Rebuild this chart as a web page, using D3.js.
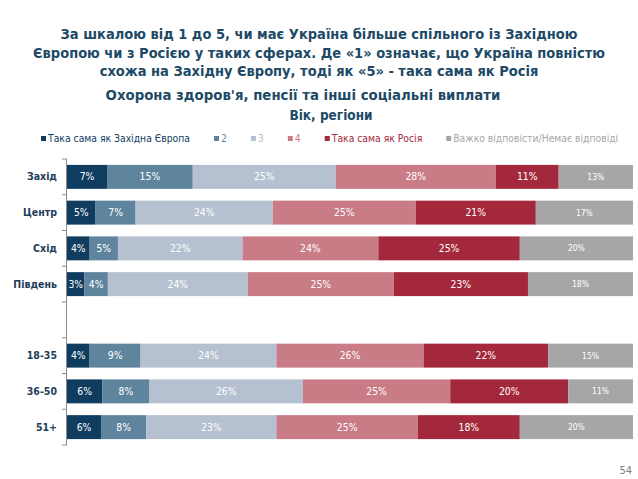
<!DOCTYPE html>
<html>
<head>
<meta charset="utf-8">
<script src="https://cdn.jsdelivr.net/npm/d3@7"></script>
<style>
  body { margin: 0; background: #fff; }
  svg { display: block; font-family: "DejaVu Sans Condensed", "DejaVu Sans", sans-serif; }
</style>
</head>
<body>
<div id="chart"></div>
<script>
const titleLines = [
  'За шкалою від 1 до 5, чи має Україна більше спільного із Західною',
  'Європою чи з Росією у таких сферах. Де «1» означає, що Україна повністю',
  'схожа на Західну Європу, тоді як «5» - така сама як Росія'
];
const subtitle = 'Охорона здоров\'я, пенсії та інші соціальні виплати';
const groupLabel = 'Вік, регіони';

const categories = ['Захід', 'Центр', 'Схід', 'Південь', ' ', '18-35', '36-50', '51+'];
const seriesNames = ['Така сама як Західна Європа', '2', '3', '4', 'Така сама як Росія', 'Важко відповісти/Немає відповіді'];
const colors = ['#0f3c5f', '#5f849e', '#b5c0d0', '#c97c86', '#a4283b', '#a6a6a6'];

const s1 = [7, 5, 4, 3, null, 4, 6, 6];
const s2 = [15, 7, 5, 4, null, 9, 8, 8];
const s3 = [25, 24, 22, 24, null, 24, 26, 23];
const s4 = [28, 25, 24, 25, null, 26, 25, 25];
const s5 = [11, 21, 25, 23, null, 22, 20, 18];
const s6 = [13, 17, 20, 18, null, 15, 11, 20];
const seriesValues = [s1, s2, s3, s4, s5, s6];

const width = 638, height = 479;
const svg = d3.select('#chart').append('svg')
  .attr('width', width)
  .attr('height', height);

// titles
const titleColor = '#1d4a66';
svg.append('g')
  .selectAll('text')
  .data(titleLines)
  .enter().append('text')
  .attr('x', 319)
  .attr('y', (d, i) => 39 + i * 18.5)
  .attr('text-anchor', 'middle')
  .attr('font-size', 14.5)
  .attr('font-weight', 'bold')
  .attr('fill', titleColor)
  .text(d => d);

svg.append('text')
  .attr('x', 303).attr('y', 100)
  .attr('text-anchor', 'middle')
  .attr('font-size', 14.8)
  .attr('font-weight', 'bold')
  .attr('fill', titleColor)
  .text(subtitle);

svg.append('text')
  .attr('x', 331).attr('y', 120)
  .attr('text-anchor', 'middle')
  .attr('font-size', 13.5)
  .attr('font-weight', 'bold')
  .attr('fill', titleColor)
  .text(groupLabel);

// legend
const legend = svg.append('g').attr('transform', 'translate(41,142)');
let lx = 0;
seriesNames.forEach((name, i) => {
  const item = legend.append('g').attr('transform', `translate(${lx},0)`);
  item.append('rect')
    .attr('x', 0).attr('y', -6)
    .attr('width', 5).attr('height', 5)
    .attr('fill', colors[i]);
  const t = item.append('text')
    .attr('x', 7).attr('y', 0)
    .attr('font-size', 10.3)
    .attr('fill', colors[i])
    .text(name);
  lx += 7 + t.node().getComputedTextLength() + 24;
});

// data
const rows = categories.map((c, j) => {
  const row = {cat: c};
  seriesNames.forEach((n, i) => { row[n] = seriesValues[i][j] || 0; });
  row.empty = seriesValues[0][j] == null;
  return row;
});

const stack = d3.stack().keys(seriesNames).offset(d3.stackOffsetExpand);
const stacked = stack(rows);

const x = d3.scaleLinear().domain([0, 1]).range([67, 633]);
const y = d3.scaleBand().domain(categories).range([159, 445])
  .paddingInner(0.33).paddingOuter(0.165);

const layers = svg.append('g')
  .selectAll('g')
  .data(stacked)
  .enter().append('g')
  .attr('fill', (d, i) => colors[i]);

layers.selectAll('rect')
  .data(d => d.filter(p => !p.data.empty))
  .enter().append('rect')
  .attr('x', d => x(d[0]))
  .attr('y', d => y(d.data.cat))
  .attr('width', d => x(d[1]) - x(d[0]))
  .attr('height', y.bandwidth());

layers.each(function (layer, i) {
  d3.select(this).selectAll('text')
    .data(layer.filter(p => !p.data.empty))
    .enter().append('text')
    .attr('x', d => (x(d[0]) + x(d[1])) / 2)
    .attr('y', d => y(d.data.cat) + y.bandwidth() / 2)
    .attr('dy', '0.35em')
    .attr('text-anchor', 'middle')
    .attr('font-size', i === 5 ? 8.5 : 10.3)
    .attr('fill', '#fff')
    .text(d => d.data[layer.key] + '%');
});

// category axis
const axis = svg.append('g')
  .attr('transform', `translate(${x(0)},0)`)
  .call(d3.axisLeft(y).tickSize(0).tickPadding(10));
axis.select('.domain').remove();
axis.selectAll('text')
  .attr('font-size', 10.5)
  .attr('font-weight', 'bold')
  .attr('fill', '#1f3d5c')
  .attr('font-family', '"DejaVu Sans Condensed", "DejaVu Sans", sans-serif');

const [y0, y1] = y.range();
const bounds = d3.range(categories.length + 1).map(i => y0 + i * y.step());
svg.append('line')
  .attr('x1', x(0) - 0.5).attr('x2', x(0) - 0.5)
  .attr('y1', y0).attr('y2', y1)
  .attr('stroke', '#8c8c8c');
svg.append('g')
  .selectAll('line')
  .data(bounds)
  .enter().append('line')
  .attr('x1', x(0) - 5).attr('x2', x(0))
  .attr('y1', d => d).attr('y2', d => d)
  .attr('stroke', '#8c8c8c');

// page number
svg.append('text')
  .attr('x', 632).attr('y', 474)
  .attr('text-anchor', 'end')
  .attr('font-size', 11)
  .attr('fill', '#7f7f7f')
  .text('54');
</script>
</body>
</html>
